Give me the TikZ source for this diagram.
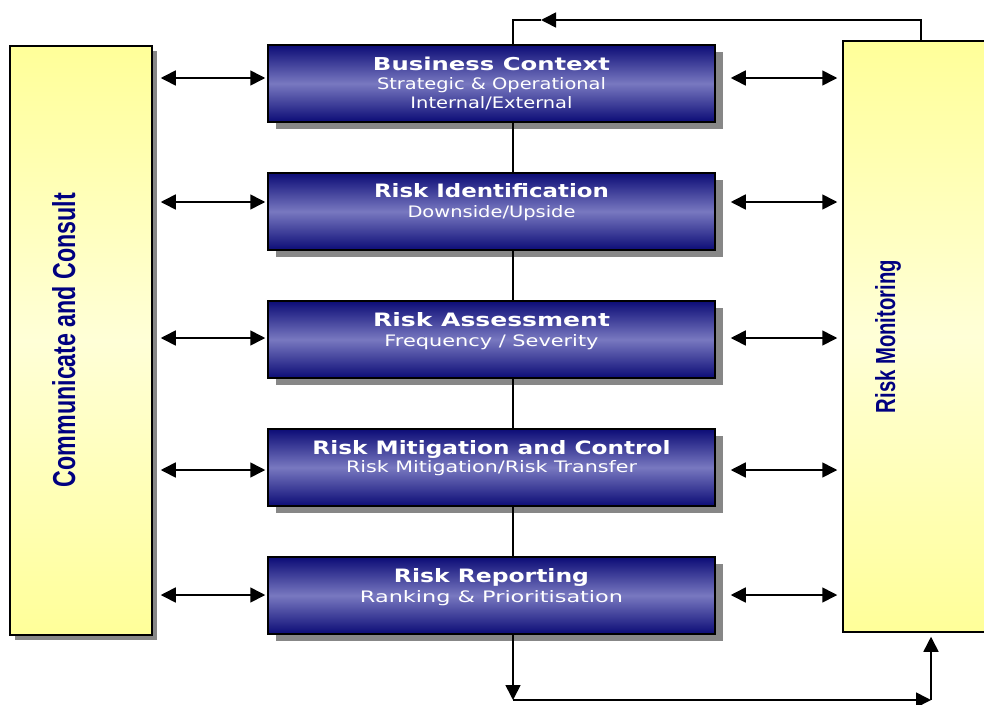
\documentclass[tikz,border=0pt]{standalone}
\usepackage{fontspec}
\usepackage{graphicx}
\usetikzlibrary{arrows.meta,shadows}
\newfontfamily\boxfont{DejaVu Sans}
\newfontfamily\sidefont{Liberation Sans}
\definecolor{navytext}{RGB}{0,0,128}
\definecolor{bdark}{RGB}{12,12,118}
\definecolor{blight}{RGB}{120,120,192}
\definecolor{ytop}{RGB}{255,255,153}
\definecolor{ymid}{RGB}{255,255,215}
\definecolor{shadowgray}{RGB}{135,135,135}
\newcommand\fitbox[3]{\resizebox{#1pt}{#2pt}{#3}}
\begin{document}
\begin{tikzpicture}[x=1pt,y=-1pt,
  arr/.tip={Triangle[length=15pt,width=15pt]},
  bluebox/.style={draw=black, line width=1.5pt, top color=bdark, bottom color=bdark,
    middle color=blight, minimum width=447pt, minimum height=77pt, inner sep=0pt,
    general shadow={fill=shadowgray, shadow xshift=8pt, shadow yshift=-7pt}},
  yellowbox/.style={draw=black, line width=1.5pt, top color=ytop, bottom color=ytop,
    middle color=ymid, inner sep=0pt},
  ttl/.style={anchor=base, inner sep=0pt, text=white, font=\boxfont\bfseries},
  sub/.style={anchor=base, inner sep=0pt, text=white, font=\boxfont},
  side/.style={anchor=base, rotate=90, inner sep=0pt, text=navytext, font=\sidefont\bfseries},
  conn/.style={line width=1.6pt, draw=black},
  dbl/.style={conn, arr-arr}
]
\useasboundingbox (0,0) rectangle (984,704);
\clip (0,0) rectangle (984,704);

% side boxes
\node[yellowbox, minimum width=142pt, minimum height=589pt,
  general shadow={fill=shadowgray, shadow xshift=5pt, shadow yshift=-5pt}] (L) at (81,340.5) {};
\node[yellowbox, minimum width=160pt, minimum height=591pt] (R) at (923,336.5) {};
\node[side] (ltxt) at (75,340) {\fitbox{294}{23}{Communicate and Consult}};
\node[side] (rtxt) at (895,336.5) {\fitbox{153}{20}{Risk Monitoring}};

% process boxes
\node[bluebox] (b1) at (491.5,83.5) {};
\node[bluebox] (b2) at (491.5,211.5) {};
\node[bluebox] (b3) at (491.5,339.5) {};
\node[bluebox] (b4) at (491.5,467.5) {};
\node[bluebox] (b5) at (491.5,595.5) {};

\node[ttl] (t1) at (491.5,70.5) {\fitbox{237}{13.5}{Business Context}};
\node[sub] (s1a) at (491.5,89.5) {\fitbox{229}{12}{Strategic \& Operational}};
\node[sub] (s1b) at (491.5,108) {\fitbox{162}{12}{Internal/External}};

\node[ttl] (t2) at (491.5,197.5) {\fitbox{235}{14}{Risk Identification}};
\node[sub] (s2) at (491.5,217.5) {\fitbox{168}{12}{Downside/Upside}};

\node[ttl] (t3) at (491.5,326) {\fitbox{237}{14}{Risk Assessment}};
\node[sub] (s3) at (491.5,346) {\fitbox{214}{12}{Frequency / Severity}};

\node[ttl] (t4) at (491.5,454) {\fitbox{358}{14}{Risk Mitigation and Control}};
\node[sub] (s4) at (491.5,472) {\fitbox{291}{12}{Risk Mitigation/Risk Transfer}};

\node[ttl] (t5) at (491.5,582) {\fitbox{195}{14}{Risk Reporting}};
\node[sub] (s5) at (491.5,602) {\fitbox{263}{12}{Ranking \& Prioritisation}};

% arrow heights
\coordinate (a1) at (0,78);
\coordinate (a2) at (0,202);
\coordinate (a3) at (0,338);
\coordinate (a4) at (0,470);
\coordinate (a5) at (0,595);

\foreach \i in {1,...,5}{
  \draw[dbl] ([xshift=8pt]L.east |- a\i) -- ([xshift=-2pt]b\i.west |- a\i);
  \draw[dbl] ([xshift=15pt]b\i.east |- a\i) -- ([xshift=-5pt]R.west |- a\i);
}

% central spine
\coordinate (cx) at (513,20);
\foreach \i/\j in {1/2,2/3,3/4,4/5}{
  \draw[conn] (b\i.south -| cx) -- (b\j.north -| cx);
}

% top feedback loop
\coordinate (rx) at (921,20);
\coordinate (tipT) at (541,20);
\draw[conn, -arr] (R.north -| rx) -- (rx) -- (tipT);
\draw[conn] (tipT) -- (cx) -- (b1.north -| cx);

% bottom loop
\coordinate (bl) at (513,700);
\coordinate (br) at (931,700);
\draw[conn, -arr] (b5.south -| bl) -- (bl);
\draw[conn, -arr] (bl) -- (br);
\draw[conn, -arr, shorten >=4pt] (br) -- (R.south -| br);
\end{tikzpicture}
\end{document}
